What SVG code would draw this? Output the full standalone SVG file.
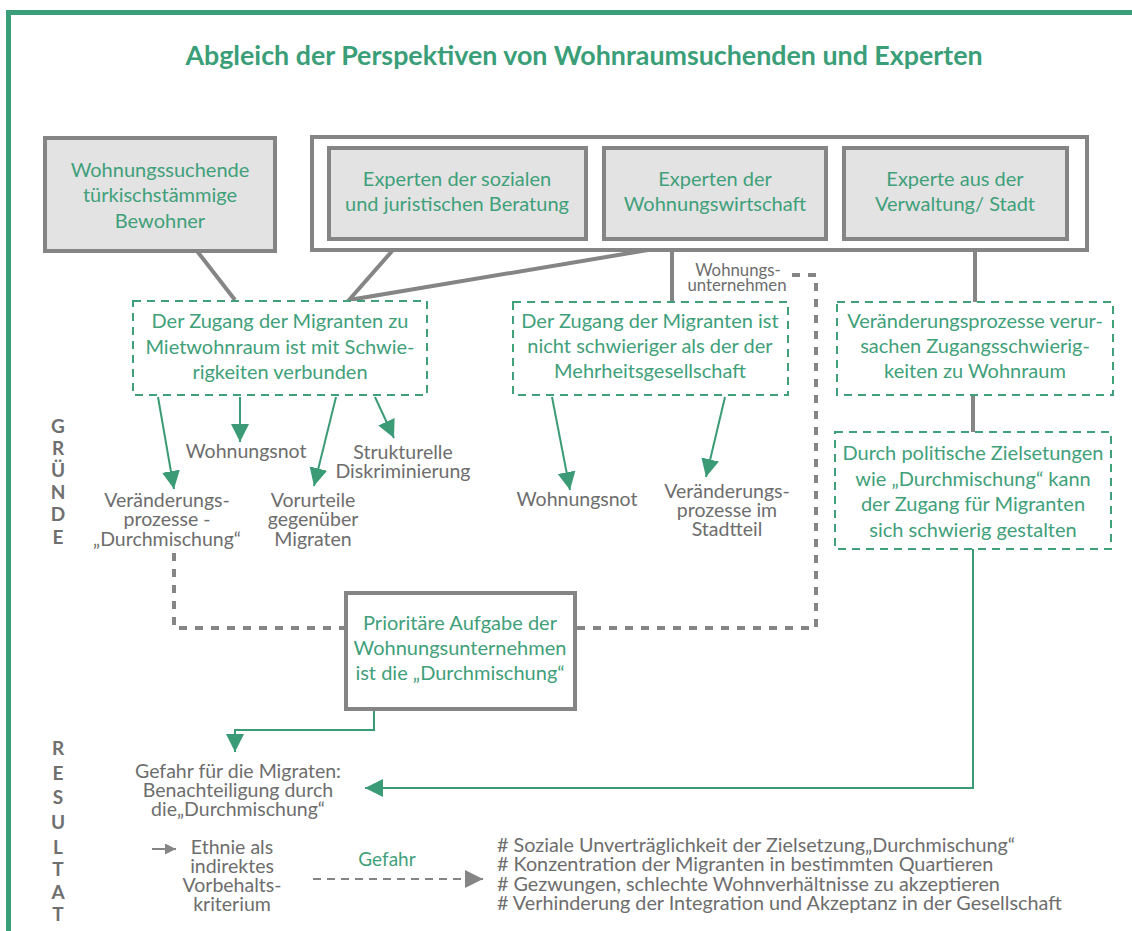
<svg xmlns="http://www.w3.org/2000/svg" width="1132" height="931" viewBox="0 0 1132 931">
  <defs>
    <style>
      .frame { fill: none; stroke: #3a9e78; stroke-width: 5; }
      .title { font-family: Lato, "Open Sans", sans-serif; font-weight: bold; font-size: 26.8px; fill: #3a9e78; text-anchor: middle; }
      .gbox { fill: #e3e3e3; stroke: #858585; stroke-width: 4; }
      .wbox { fill: #ffffff; stroke: #858585; stroke-width: 4; }
      .dbox { fill: #ffffff; stroke: #3fa07a; stroke-width: 2; stroke-dasharray: 8 6; }
      .gt { font-family: Lato, "Open Sans", sans-serif; font-size: 20px; fill: #3fa07a; text-anchor: middle; }
      .lt { font-family: Lato, "Open Sans", sans-serif; font-size: 19.5px; fill: #6d6d6d; text-anchor: middle; }
      .list { font-family: Lato, "Open Sans", sans-serif; font-size: 19.8px; fill: #6d6d6d; }
      .small { font-family: Lato, "Open Sans", sans-serif; font-size: 16.8px; fill: #6d6d6d; text-anchor: middle; }
      .side { font-family: Lato, "Open Sans", sans-serif; font-weight: bold; font-size: 19px; fill: #6f6f6f; text-anchor: middle; }
      .gline { fill: none; stroke: #858585; stroke-width: 4; }
      .gdash { fill: none; stroke: #858585; stroke-width: 4; stroke-dasharray: 8 8; }
      .arr { fill: none; stroke: #3a9b76; stroke-width: 2; }
    </style>
    <marker id="ah" viewBox="0 0 10 10" refX="10" refY="5" markerWidth="18" markerHeight="20" markerUnits="userSpaceOnUse" orient="auto">
      <path d="M0,0 L10,5 L0,10 z" fill="#3a9b76"/>
    </marker>
    <marker id="ahGray" viewBox="0 0 10 10" refX="10" refY="5" markerWidth="18" markerHeight="20" markerUnits="userSpaceOnUse" orient="auto">
      <path d="M0,0 L10,5 L0,10 z" fill="#858585"/>
    </marker>
    <marker id="ahSmall" viewBox="0 0 10 10" refX="10" refY="5" markerWidth="11" markerHeight="11" markerUnits="userSpaceOnUse" orient="auto">
      <path d="M0,0 L10,5 L0,10 z" fill="#858585"/>
    </marker>
  </defs>

  <rect width="1132" height="931" fill="#ffffff"/>

  <!-- outer frame: top and left rules -->
  <path class="frame" d="M8.5,935 V12.5 H1140"/>

  <text class="title" x="584" y="65">Abgleich der Perspektiven von Wohnraumsuchenden und Experten</text>

  <!-- side headings -->
  <g id="side-gruende">
    <text class="side" x="58" y="433">G</text>
    <text class="side" x="58" y="455">R</text>
    <text class="side" x="58" y="477">Ü</text>
    <text class="side" x="58" y="499">N</text>
    <text class="side" x="58" y="521">D</text>
    <text class="side" x="58" y="544">E</text>
  </g>
  <g id="side-resultat">
    <text class="side" x="58" y="755">R</text>
    <text class="side" x="58" y="780">E</text>
    <text class="side" x="58" y="804">S</text>
    <text class="side" x="58" y="829">U</text>
    <text class="side" x="58" y="854">L</text>
    <text class="side" x="58" y="876">T</text>
    <text class="side" x="58" y="899">A</text>
    <text class="side" x="58" y="921">T</text>
  </g>

  <!-- connectors -->
  <g id="connectors">
    <path class="gline" d="M197,251 L235,300"/>
    <path class="gline" d="M393,250 L349,300 L648,250"/>
    <path class="gline" d="M672,250 V302"/>
    <path class="gline" d="M975,250 V302"/>
    <path class="gline" d="M973,395 V432"/>
    <path class="gdash" d="M792,275 H816 V628 H575"/>
    <path class="gdash" d="M174,553 V628 H345"/>

    <path class="arr" d="M158,397 L174,489" marker-end="url(#ah)"/>
    <path class="arr" d="M240,397 L240,442" marker-end="url(#ah)"/>
    <path class="arr" d="M336,397 L314,486" marker-end="url(#ah)"/>
    <path class="arr" d="M375,397 L394,438" marker-end="url(#ah)"/>
    <path class="arr" d="M552,397 L570,490" marker-end="url(#ah)"/>
    <path class="arr" d="M725,397 L706,477" marker-end="url(#ah)"/>
    <path class="arr" d="M374,710 V730 H235 V752" marker-end="url(#ah)"/>
    <path class="arr" d="M973,549 V788 H365" marker-end="url(#ah)"/>
    <path d="M152,849 H176" stroke="#858585" stroke-width="2" fill="none" marker-end="url(#ahSmall)"/>
    <path d="M313,879 H483" stroke="#858585" stroke-width="2" stroke-dasharray="8 6" fill="none" marker-end="url(#ahGray)"/>
    <text class="gt" x="387" y="866" style="font-size:19px">Gefahr</text>
    <text class="small" x="738" y="276">Wohnungs-</text>
    <text class="small" x="737" y="291">unternehmen</text>
  </g>

  <!-- actor boxes -->
  <g id="n-wohnungssuchende">
    <rect class="gbox" x="45" y="138" width="230" height="113"/>
    <text class="gt" x="160" y="177">Wohnungssuchende</text>
    <text class="gt" x="160" y="202">türkischstämmige</text>
    <text class="gt" x="160" y="228">Bewohner</text>
  </g>
  <g id="n-experten">
    <rect class="wbox" x="312" y="137" width="775" height="113"/>
  </g>
  <g id="n-beratung">
    <rect class="gbox" x="329" y="148" width="257" height="91"/>
    <text class="gt" x="457" y="186">Experten der sozialen</text>
    <text class="gt" x="457" y="211">und juristischen Beratung</text>
  </g>
  <g id="n-wohnungswirtschaft">
    <rect class="gbox" x="604" y="148" width="222" height="91"/>
    <text class="gt" x="715" y="186">Experten der</text>
    <text class="gt" x="715" y="211">Wohnungswirtschaft</text>
  </g>
  <g id="n-verwaltung">
    <rect class="gbox" x="844" y="148" width="223" height="91"/>
    <text class="gt" x="955" y="186">Experte aus der</text>
    <text class="gt" x="955" y="211">Verwaltung/ Stadt</text>
  </g>

  <!-- statements -->
  <g id="n-zugang-schwierig">
    <rect class="dbox" x="133" y="301" width="294" height="94"/>
    <text class="gt" x="280" y="328">Der Zugang der Migranten zu</text>
    <text class="gt" x="280" y="354">Mietwohnraum ist mit Schwie-</text>
    <text class="gt" x="280" y="379">rigkeiten verbunden</text>
  </g>
  <g id="n-zugang-nicht-schwieriger">
    <rect class="dbox" x="513" y="302" width="275" height="93"/>
    <text class="gt" x="650" y="328">Der Zugang der Migranten ist</text>
    <text class="gt" x="650" y="353">nicht schwieriger als der der</text>
    <text class="gt" x="650" y="378">Mehrheitsgesellschaft</text>
  </g>
  <g id="n-veraenderungsprozesse">
    <rect class="dbox" x="837" y="302" width="276" height="93"/>
    <text class="gt" x="975" y="328">Veränderungsprozesse verur-</text>
    <text class="gt" x="975" y="353">sachen Zugangsschwierig-</text>
    <text class="gt" x="975" y="378">keiten zu Wohnraum</text>
  </g>
  <g id="n-politische-zielsetzungen">
    <rect class="dbox" x="835" y="432" width="276" height="117"/>
    <text class="gt" x="973" y="460">Durch politische Zielsetungen</text>
    <text class="gt" x="973" y="486">wie „Durchmischung“ kann</text>
    <text class="gt" x="973" y="511">der Zugang für Migranten</text>
    <text class="gt" x="973" y="537">sich schwierig gestalten</text>
  </g>

  <!-- reasons -->
  <g id="n-wohnungsnot-1">
    <text class="lt" x="246" y="458">Wohnungsnot</text>
  </g>
  <g id="n-strukturelle">
    <text class="lt" x="403" y="459">Strukturelle</text>
    <text class="lt" x="403" y="478">Diskriminierung</text>
  </g>
  <g id="n-veraenderung-durchmischung">
    <text class="lt" x="167" y="507">Veränderungs-</text>
    <text class="lt" x="167" y="526">prozesse -</text>
    <text class="lt" x="167" y="546">„Durchmischung“</text>
  </g>
  <g id="n-vorurteile">
    <text class="lt" x="313" y="507">Vorurteile</text>
    <text class="lt" x="313" y="526">gegenüber</text>
    <text class="lt" x="313" y="546">Migraten</text>
  </g>
  <g id="n-wohnungsnot-2">
    <text class="lt" x="577" y="506">Wohnungsnot</text>
  </g>
  <g id="n-veraenderung-stadtteil">
    <text class="lt" x="727" y="498">Veränderungs-</text>
    <text class="lt" x="727" y="517">prozesse im</text>
    <text class="lt" x="727" y="536">Stadtteil</text>
  </g>

  <!-- result -->
  <g id="n-prioritaere-aufgabe">
    <rect class="wbox" x="346" y="593" width="229" height="116"/>
    <text class="gt" x="460" y="630">Prioritäre Aufgabe der</text>
    <text class="gt" x="460" y="655">Wohnungsunternehmen</text>
    <text class="gt" x="460" y="680">ist die „Durchmischung“</text>
  </g>
  <g id="n-gefahr">
    <text class="lt" x="238" y="778">Gefahr für die Migraten:</text>
    <text class="lt" x="238" y="797">Benachteiligung durch</text>
    <text class="lt" x="238" y="816">die„Durchmischung“</text>
  </g>
  <g id="n-ethnie">
    <text class="lt" x="232" y="854">Ethnie als</text>
    <text class="lt" x="232" y="873">indirektes</text>
    <text class="lt" x="232" y="892">Vorbehalts-</text>
    <text class="lt" x="232" y="911">kriterium</text>
  </g>
  <g id="n-folgen">
    <text class="list" x="497" y="852"># Soziale Unverträglichkeit der Zielsetzung„Durchmischung“</text>
    <text class="list" x="497" y="871"># Konzentration der Migranten in bestimmten Quartieren</text>
    <text class="list" x="497" y="891"># Gezwungen, schlechte Wohnverhältnisse zu akzeptieren</text>
    <text class="list" x="497" y="910"># Verhinderung der Integration und Akzeptanz in der Gesellschaft</text>
  </g>
</svg>
